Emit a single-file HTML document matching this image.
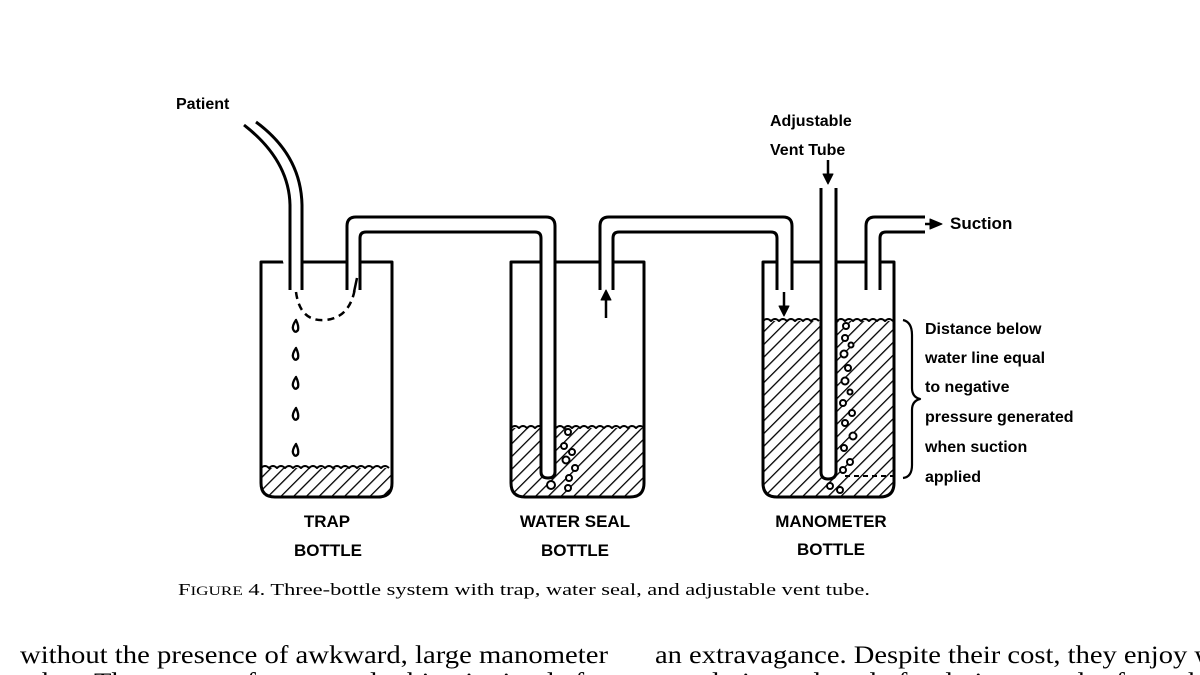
<!DOCTYPE html>
<html><head><meta charset="utf-8"><style>
html,body{margin:0;padding:0;background:#fff;}
body{width:1200px;height:675px;overflow:hidden;position:relative;}
svg{position:absolute;left:0;top:0;}
</style></head><body>
<svg width="1200" height="675" viewBox="0 0 1200 675" xmlns="http://www.w3.org/2000/svg">
<defs>
<pattern id="h" patternUnits="userSpaceOnUse" width="9" height="9" patternTransform="rotate(45)">
<line x1="0" y1="0" x2="0" y2="9" stroke="#000" stroke-width="2.6"/>
</pattern>
</defs>
<g fill="none" stroke="#000" stroke-width="3" stroke-linejoin="round">
<!-- liquids -->
<path d="M261 468 L392 468 L392 483 Q392 497 378 497 L275 497 Q261 497 261 483 Z" fill="url(#h)" stroke="none"/>
<path d="M511 428 L644 428 L644 483 Q644 497 630 497 L525 497 Q511 497 511 483 Z" fill="url(#h)" stroke="none"/>
<path d="M763 321 L894 321 L894 483 Q894 497 880 497 L777 497 Q763 497 763 483 Z" fill="url(#h)" stroke="none"/>
<!-- wavy surfaces -->
<path d="M261 468 q4 -4 8 0 q4 -4 8 0 q4 -4 8 0 q4 -4 8 0 q4 -4 8 0 q4 -4 8 0 q4 -4 8 0 q4 -4 8 0 q4 -4 8 0 q4 -4 8 0 q4 -4 8 0 q4 -4 8 0 q4 -4 8 0 q4 -4 8 0 q4 -4 8 0 q4 -4 8 0" stroke-width="2"/>
<path d="M511 428 q4 -4 8 0 q4 -4 8 0 q4 -4 8 0 q4 -4 8 0 M556 428 q4 -4 8 0 q4 -4 8 0 q4 -4 8 0 q4 -4 8 0 q4 -4 8 0 q4 -4 8 0 q4 -4 8 0 q4 -4 8 0 q4 -4 8 0 q4 -4 8 0 q4 -4 8 0" stroke-width="2"/>
<path d="M763 321 q4 -4 8 0 q4 -4 8 0 q4 -4 8 0 q4 -4 8 0 q4 -4 8 0 q4 -4 8 0 q4 -4 8 0 M837 321 q4 -4 8 0 q4 -4 8 0 q4 -4 8 0 q4 -4 8 0 q4 -4 8 0 q4 -4 8 0 q4 -4 8 0" stroke-width="2"/>
<!-- bottles -->
<path d="M261 262 L261 483 Q261 497 275 497 L378 497 Q392 497 392 483 L392 262 Z"/>
<path d="M511 262 L511 483 Q511 497 525 497 L630 497 Q644 497 644 483 L644 262 Z"/>
<path d="M763 262 L763 483 Q763 497 777 497 L880 497 Q894 497 894 483 L894 262 Z"/>
<!-- patient tube -->
<path d="M290 288 L290 200 Q290 160 247 125" fill="#fff" stroke="none"/>
<path d="M290 290 L290 205 Q289 160 244 125"/>
<path d="M302 290 L302 205 Q301 155 256 122"/>
<rect x="291.5" y="255" width="9" height="14" fill="#fff" stroke="none"/>
<!-- tube trap -> water seal -->
<path d="M347 290 L347 226 Q347 217 356 217 L546 217 Q555 217 555 226 L555 472 Q555 478 548 478 Q541 478 541 472 L541 238 Q541 232 535 232 L366 232 Q360 232 360 238 L360 290" fill="#fff"/>
<rect x="349" y="255" width="9.5" height="14" fill="#fff" stroke="none"/>
<rect x="543" y="255" width="10" height="14" fill="#fff" stroke="none"/>
<!-- tube water seal -> manometer -->
<path d="M600 290 L600 226 Q600 217 609 217 L783 217 Q792 217 792 226 L792 290 M600 290 M613 290 L613 238 Q613 232 619 232 L771 232 Q777 232 777 238 L777 290"/>
<rect x="601.5" y="255" width="10" height="14" fill="#fff" stroke="none"/>
<rect x="778.5" y="255" width="12" height="14" fill="#fff" stroke="none"/>
<!-- vent tube -->
<path d="M821 188 L821 472 Q821 479 828 479 Q836 479 836 472 L836 188" fill="#fff"/>
<rect x="822.5" y="255" width="12" height="14" fill="#fff" stroke="none"/>
<!-- outlet tube -->
<path d="M866 290 L866 226 Q866 217 875 217 L925 217 M880 290 L880 238 Q880 232 886 232 L925 232"/>
<rect x="867.5" y="255" width="11" height="14" fill="#fff" stroke="none"/>
<!-- dashed arc trap -->
<path d="M296 292 Q300 322 325 320 Q350 318 355 288" stroke-dasharray="7 5" stroke-width="2.5"/>
<!-- arrows -->
<path d="M606 318 L606 296" stroke-width="2.5"/>
<path d="M601 300 L606 290 L611 300 Z" fill="#000" stroke-width="1"/>
<path d="M784 292 L784 310" stroke-width="2.5"/>
<path d="M779 306 L784 316 L789 306 Z" fill="#000" stroke-width="1"/>
<path d="M828 160 L828 178" stroke-width="2.5"/>
<path d="M823 174 L828 184 L833 174 Z" fill="#000" stroke-width="1"/>
<path d="M925 224 L932 224" stroke-width="2.5"/>
<path d="M930 219 L942 224 L930 229 Z" fill="#000" stroke-width="1"/>
<path d="M357 278 L354 292" stroke-width="2.5"/>
<!-- drops -->
<g stroke-width="2.3">
<path d="M296 320 q-4 6 -3 9 q2 5 5 1 q1 -4 -2 -10z"/>
<path d="M296 348 q-4 6 -3 9 q2 5 5 1 q1 -4 -2 -10z"/>
<path d="M296 377 q-4 6 -3 9 q2 5 5 1 q1 -4 -2 -10z"/>
<path d="M296 408 q-4 6 -3 9 q2 5 5 1 q1 -4 -2 -10z"/>
<path d="M296 444 q-4 6 -3 9 q2 5 5 1 q1 -4 -2 -10z"/>
</g>
<!-- bubbles water seal -->
<g stroke-width="2" fill="#fff">
<circle cx="568" cy="432" r="3"/><circle cx="564" cy="446" r="3"/><circle cx="572" cy="452" r="3"/><circle cx="566" cy="460" r="3.5"/><circle cx="575" cy="468" r="3"/><circle cx="569" cy="478" r="3"/><circle cx="568" cy="488" r="3"/><circle cx="551" cy="485" r="4"/>
</g>
<!-- bubbles manometer -->
<g stroke-width="2" fill="#fff">
<circle cx="846" cy="326" r="3"/><circle cx="845" cy="338" r="3"/><circle cx="851" cy="345" r="2.5"/><circle cx="844" cy="354" r="3.5"/><circle cx="848" cy="368" r="3"/><circle cx="845" cy="381" r="3.5"/><circle cx="850" cy="392" r="2.5"/><circle cx="843" cy="403" r="3"/><circle cx="852" cy="413" r="3"/><circle cx="845" cy="423" r="3"/><circle cx="853" cy="436" r="3.5"/><circle cx="844" cy="448" r="3"/><circle cx="850" cy="462" r="3"/><circle cx="843" cy="470" r="3"/><circle cx="830" cy="486" r="3"/><circle cx="840" cy="490" r="3"/>
</g>
<path d="M845 476 L893 476" stroke-dasharray="5 4" stroke-width="2"/>
<!-- brace -->
<path d="M903 320 Q912 322 912 335 L912 388 Q912 397 920 399 Q912 401 912 410 L912 465 Q912 477 903 478" stroke-width="2.2"/>
</g>
<g font-family="Liberation Sans, sans-serif" font-weight="bold" font-size="16" fill="#000">
<text x="176" y="109">Patient</text>
<text x="770" y="126">Adjustable</text>
<text x="770" y="155">Vent Tube</text>
<text x="950" y="229" font-size="17">Suction</text>
<text x="925" y="334">Distance below</text>
<text x="925" y="363">water line equal</text>
<text x="925" y="392">to negative</text>
<text x="925" y="422">pressure generated</text>
<text x="925" y="452">when suction</text>
<text x="925" y="482">applied</text>
<g font-size="17" text-anchor="middle">
<text x="327" y="527">TRAP</text>
<text x="328" y="556">BOTTLE</text>
<text x="575" y="527">WATER SEAL</text>
<text x="575" y="556">BOTTLE</text>
<text x="831" y="527">MANOMETER</text>
<text x="831" y="555">BOTTLE</text>
</g>
</g>
<text x="178" y="595" font-family="Liberation Serif, serif" font-size="17" textLength="692" lengthAdjust="spacingAndGlyphs">F<tspan font-size="13">IGURE</tspan> 4. Three-bottle system with trap, water seal, and adjustable vent tube.</text>
<text x="20" y="663" font-family="Liberation Serif, serif" font-size="25" textLength="588" lengthAdjust="spacingAndGlyphs">without the presence of awkward, large manometer</text>
<text x="655" y="663" font-family="Liberation Serif, serif" font-size="25" textLength="560" lengthAdjust="spacingAndGlyphs">an extravagance. Despite their cost, they enjoy w</text>
<text x="20" y="690" font-family="Liberation Serif, serif" font-size="25" textLength="588" lengthAdjust="spacingAndGlyphs">tubes. The system of water seal tubing is simple for</text>
<text x="655" y="690" font-family="Liberation Serif, serif" font-size="25" textLength="560" lengthAdjust="spacingAndGlyphs">popularity and ready for drainage and safe on the</text>
</svg>
</body></html>
